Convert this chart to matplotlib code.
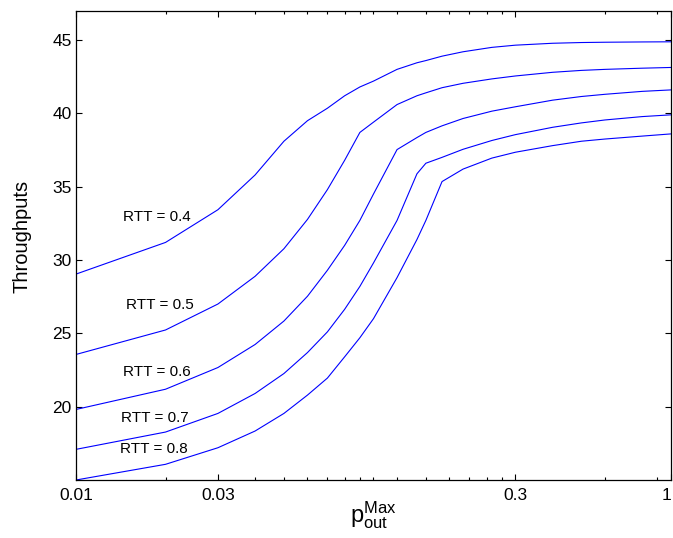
import matplotlib
matplotlib.use('Agg')
import matplotlib.pyplot as plt
from matplotlib.ticker import FixedLocator, NullFormatter, FixedFormatter

plt.rcParams['font.family'] = ['Liberation Sans', 'DejaVu Sans']
plt.rcParams['mathtext.fontset'] = 'custom'
plt.rcParams['mathtext.rm'] = 'Liberation Sans'
plt.rcParams['mathtext.it'] = 'Liberation Sans'

# p_out^Max values
p_out = [0.01, 0.02, 0.03, 0.04, 0.05, 0.06, 0.07, 0.08, 0.09, 0.1,
         0.12, 0.14, 0.15, 0.17, 0.2, 0.25, 0.3, 0.4, 0.5, 0.6, 0.8, 1.0]

# throughput, one list per RTT
thr_04 = [29.04, 31.2, 33.43, 35.8, 38.1, 39.5, 40.35, 41.2, 41.8, 42.2,
          43.0, 43.45, 43.6, 43.9, 44.2, 44.5, 44.65, 44.78, 44.83, 44.85, 44.87, 44.88]
thr_05 = [23.56, 25.23, 27.0, 28.89, 30.77, 32.77, 34.8, 36.8, 38.7, 39.4,
          40.6, 41.2, 41.4, 41.75, 42.05, 42.35, 42.55, 42.8, 42.93, 43.0, 43.08, 43.13]
thr_06 = [19.81, 21.19, 22.67, 24.24, 25.84, 27.53, 29.3, 31.0, 32.7, 34.5,
          37.53, 38.35, 38.7, 39.15, 39.65, 40.15, 40.45, 40.9, 41.15, 41.3, 41.5, 41.6]
thr_07 = [17.09, 18.27, 19.54, 20.9, 22.26, 23.69, 25.1, 26.64, 28.2, 29.8,
          32.7, 35.88, 36.6, 37.0, 37.55, 38.15, 38.55, 39.05, 39.35, 39.55, 39.78, 39.9]
thr_08 = [15.0, 16.07, 17.2, 18.34, 19.54, 20.79, 21.95, 23.4, 24.7, 26.0,
          28.8, 31.4, 32.7, 35.35, 36.2, 36.95, 37.35, 37.8, 38.1, 38.25, 38.45, 38.6]

rtt_labels = ['RTT = 0.4', 'RTT = 0.5', 'RTT = 0.6', 'RTT = 0.7', 'RTT = 0.8']
label_x = [0.0187, 0.0191, 0.01867, 0.01847, 0.0183]
label_y = [32.92, 26.91, 22.37, 19.2, 17.09]

major_x = [0.01, 0.03, 0.3, 1]
major_lbl = ['0.01', '0.03', '0.3', '1']
minor_x = [0.02, 0.04, 0.05, 0.06, 0.07, 0.08, 0.09, 0.1,
           0.12, 0.15, 0.18, 0.21, 0.24, 0.27, 0.6, 0.9]
y_ticks = [20, 25, 30, 35, 40, 45]

fig = plt.figure(figsize=(6.73, 5.38), dpi=100)
ax = fig.add_axes([0.1129, 0.1078, 0.8841, 0.8723])

for thr in [thr_04, thr_05, thr_06, thr_07, thr_08]:
    ax.plot(p_out, thr, color='#0000ff', linewidth=0.8)

for t, x, y in zip(rtt_labels, label_x, label_y):
    ax.text(x, y, t, fontsize=11, ha='center', va='center')

ax.set_xscale('log')
ax.set_xlim(0.01, 1)
ax.set_ylim(15, 47)
ax.xaxis.set_major_locator(FixedLocator(major_x))
ax.xaxis.set_major_formatter(FixedFormatter(major_lbl))
ax.xaxis.set_minor_locator(FixedLocator(minor_x))
ax.xaxis.set_minor_formatter(NullFormatter())
ax.set_yticks(y_ticks)

ax.tick_params(which='both', direction='in', top=True, right=True, labelsize=12.5, width=0.8)
ax.tick_params(which='major', length=4)
ax.tick_params(which='minor', length=2)
ax.tick_params(axis='x', pad=6)
ax.tick_params(axis='y', pad=3)
for s in ax.spines.values():
    s.set_linewidth(0.9)
# last label sits on the figure edge, as in the original; nudge it in a bit
ax.get_xticklabels()[-1].set_horizontalalignment('right')
ax.get_xticklabels()[-1].set_x(1)

ax.set_ylabel('Throughputs', fontsize=14.5)
ax.yaxis.set_label_coords(-0.074, 0.518)
ax.set_xlabel(r'$\mathregular{p_{out}^{Max}}$', fontsize=17, labelpad=-3)

fig.savefig('out.png', dpi=100)
